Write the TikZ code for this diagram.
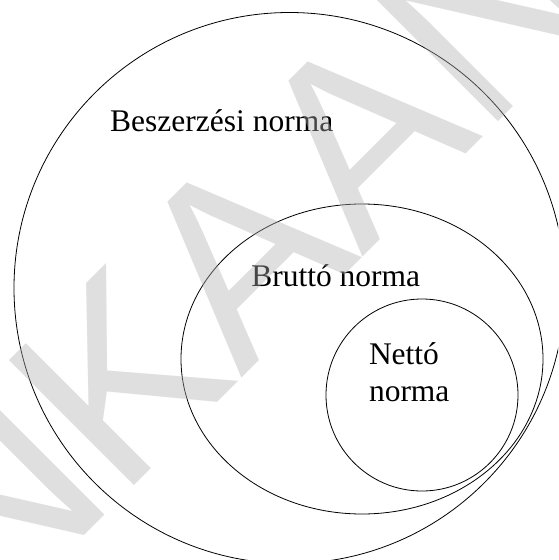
\documentclass[tikz,border=0pt]{standalone}
\usepackage{fontspec}
\setmainfont{Liberation Serif}
\newfontfamily\wmfont{Liberation Sans}
\usetikzlibrary{shapes.geometric}
\definecolor{wmgray}{RGB}{175,175,175}
\tikzset{
  ring/.style={draw=black, line width=0.8pt, inner sep=0pt, outer sep=0pt},
  lbl/.style={font=\fontsize{31.5}{37.4}\selectfont, inner sep=0pt, outer sep=0pt, anchor=base west},
  wm/.style={font=\wmfont\fontsize{257}{257}\selectfont, text=wmgray, text opacity=0.4, inner sep=0pt, anchor=base west}
}
\begin{document}
\begin{tikzpicture}[x=1pt, y=-1pt]
\useasboundingbox (0,0) rectangle (558,560);
\clip (0,0) rectangle (558,560);
\fill[white] (0,0) rectangle (558,560);
% nested sets
\node[ring, circle, minimum size=551pt] (beszerzes) at (289.5,288) {};
\node[ring, ellipse, minimum width=362pt, minimum height=310pt] (brutto) at (362,359) {};
\node[ring, circle, minimum size=192pt] (netto) at (422,395) {};
% labels
\node[lbl] (tbesz) at (110.2,131) {Beszerzési norma};
\node[lbl] (tbrut) at (251.3,286) {Bruttó norma};
\node[lbl] (tnett) at (369,364.3) {\begin{tabular}[t]{@{}l@{}}Nettó\\norma\end{tabular}};
% watermark
\node[wm, rotate=45] (wmark) at (-294,914) {MUNKAANYAG};
\end{tikzpicture}
\end{document}
